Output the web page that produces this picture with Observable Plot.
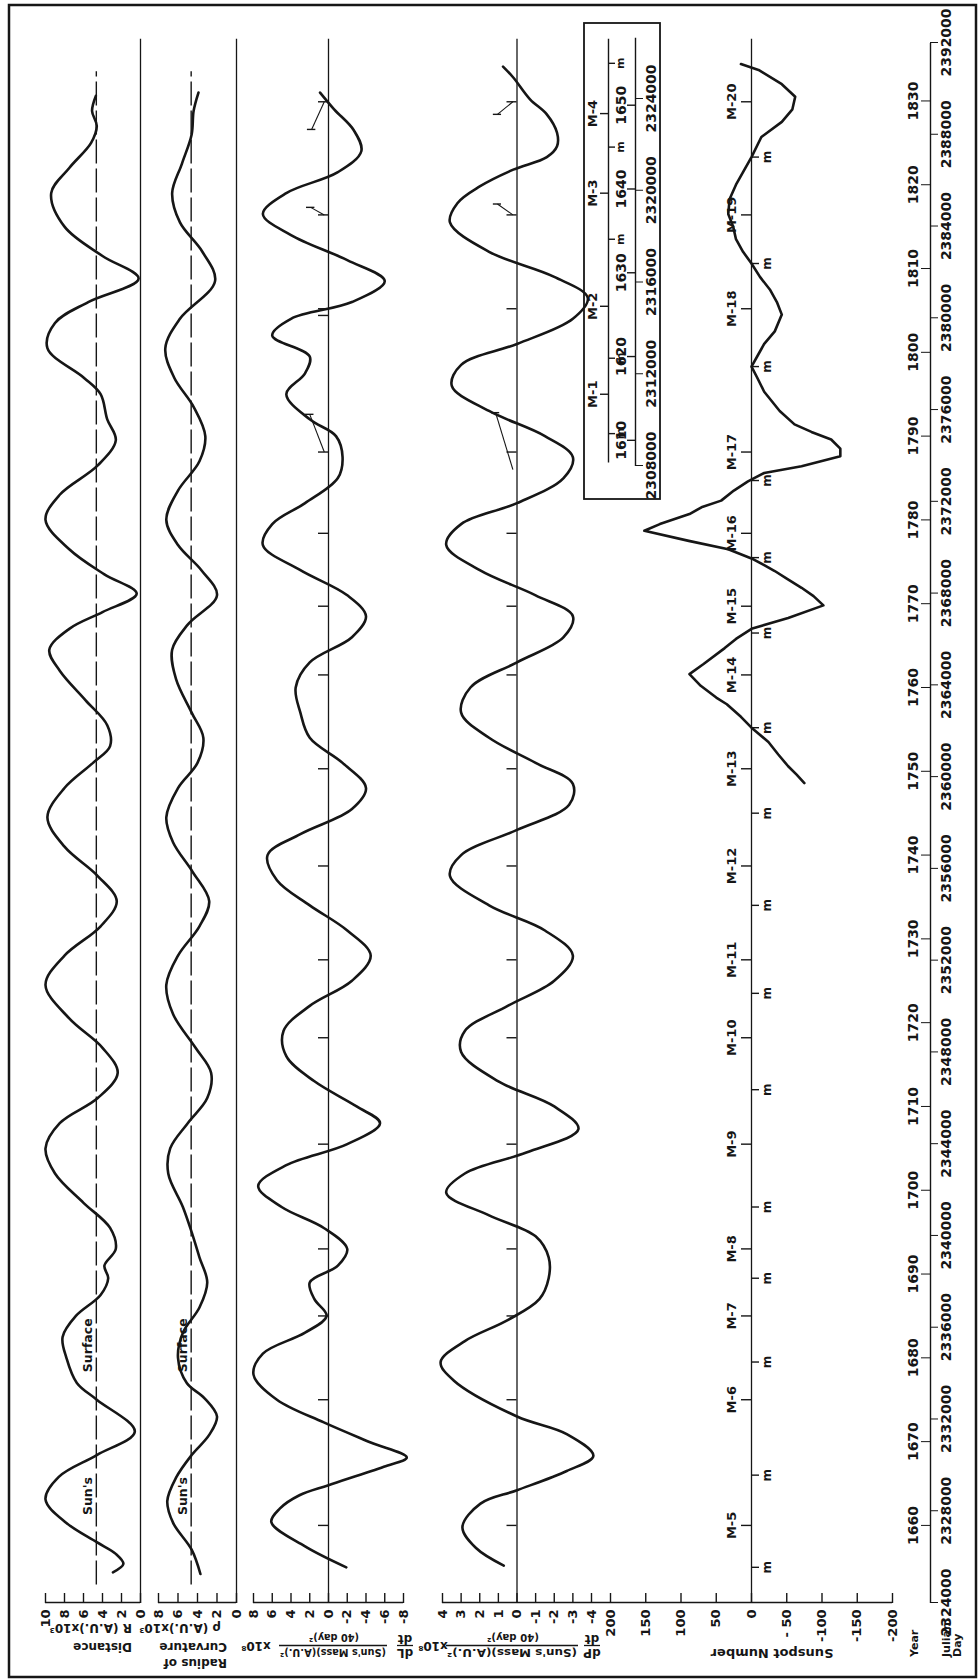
<!DOCTYPE html>
<html>
<head>
<meta charset="utf-8">
<script src="https://cdn.jsdelivr.net/npm/d3@7"></script>
<script src="https://cdn.jsdelivr.net/npm/@observablehq/plot@0.6"></script>
<style>
html, body { margin:0; padding:0; background:#fff; overflow:hidden; width:979px; height:1680px; }
#page { position:absolute; left:0; top:0; width:1680px; height:979px; transform-origin:0 0;
        transform: translate(0px,1680px) rotate(-90deg); background:#fff; }
#page > svg { position:absolute; left:0; top:0; }
</style>
</head>
<body>
<div id="page"></div>
<script>
// ---------------- data ----------------
const yearTicks = [1660,1670,1680,1690,1700,1710,1720,1730,1740,1750,1760,1770,1780,1790,1800,1810,1820,1830];
const julianDayTicks = [2324000,2328000,2332000,2336000,2340000,2344000,2348000,2352000,2356000,2360000,2364000,2368000,2372000,2376000,2380000,2384000,2388000,2392000];
const insetYearTicks = [1610,1620,1630,1640,1650];
const insetJulianDayTicks = [2308000,2312000,2316000,2320000,2324000];

const maximaEpochs = [1660.0,1675.0,1685.0,1693.0,1705.5,1718.2,1727.5,1738.7,1750.3,1761.5,1769.7,1778.4,1788.1,1805.2,1816.4,1829.9];
const maximaLabels = ["M-5","M-6","M-7","M-8","M-9","M-10","M-11","M-12","M-13","M-14","M-15","M-16","M-17","M-18","M-19","M-20"];
const minimaEpochs = [1655.0,1666.0,1679.5,1689.5,1698.0,1712.0,1723.5,1734.0,1745.0,1755.2,1766.5,1775.5,1784.7,1798.3,1810.6,1823.3];
const insetMaxima = [1615.5,1626.0,1639.5,1649.0];
const insetMaximaLabels = ["M-1","M-2","M-3","M-4"];
const insetMinima = [1610.8,1619.8,1634.0,1645.0,1655.0];

// displaced-epoch markers on the dL/dt and dP/dt zero lines: [maximum epoch, displaced epoch, height]
const dLShiftedMarks = [[1788.1,1792.6,2.0],[1816.4,1817.3,1.9],[1829.9,1826.6,1.8]];
const dLExtraTicks = [1804.4];
const dPShiftedMarks = [[1786.0,1792.8,1.15],[1816.4,1817.7,1.05],[1829.9,1828.4,1.05]];

const distanceTicks = [10,8,6,4,2,0];
const radiusTicks = [8,6,4,2,0];
const dLTicks = [8,6,4,2,0,-2,-4,-6,-8];
const dPTicks = [4,3,2,1,0,-1,-2,-3,-4];
const sunspotTicks = [200,150,100,50,0,-50,-100,-150,-200];
const sunspotTickLabels = ["200","150","100","50","0","- 50","-100","-150","-200"];
const sunsSurface = 4.65;
const surfaceLabels = [["Sun's",1663.5],["Surface",1681.5]];

// Sun's distance from the centre of mass, R (A.U.) x10^3  [year, value]
const distance = [[1654.4,2.9],[1655.4,1.8],[1656.6,2.6],[1658.0,4.6],[1660.3,7.8],[1663.1,10.0],[1665.8,8.6],[1668.4,4.6],[1671.2,0.6],[1675.0,4.6],[1677.0,6.7],[1680.0,7.8],[1682.5,8.2],[1685.0,6.8],[1687.5,4.2],[1689.5,3.4],[1691.0,3.8],[1693.0,2.6],[1695.5,3.2],[1698.5,6.0],[1702.0,9.0],[1705.0,10.0],[1708.0,8.5],[1711.0,4.5],[1714.0,2.4],[1717.0,4.0],[1720.5,7.5],[1724.5,10.0],[1728.0,8.0],[1731.5,4.2],[1734.5,2.5],[1737.5,4.5],[1741.0,8.0],[1744.5,9.8],[1748.0,8.0],[1751.0,5.0],[1753.0,3.2],[1755.5,3.5],[1758.5,5.8],[1762.0,8.5],[1764.5,9.6],[1767.0,7.5],[1769.0,4.0],[1771.2,0.4],[1773.5,3.8],[1776.5,7.5],[1780.0,10.0],[1783.0,8.5],[1786.5,4.5],[1789.5,2.6],[1792.0,3.5],[1795.0,4.2],[1797.0,6.0],[1800.5,9.8],[1803.5,9.0],[1806.0,5.5],[1808.8,0.2],[1811.5,4.0],[1815.0,8.0],[1819.0,9.4],[1822.0,7.5],[1825.0,5.2],[1827.0,4.6],[1828.8,5.1],[1830.6,4.7]];

// Radius of curvature rho (A.U.) x10^3
const radius = [[1654.2,3.7],[1657.1,4.6],[1660.3,6.5],[1662.9,7.1],[1665.7,6.2],[1668.4,4.6],[1670.8,2.8],[1673.0,2.0],[1675.2,3.3],[1677.0,5.1],[1680.0,6.0],[1683.0,5.5],[1686.0,3.8],[1689.0,3.0],[1692.0,3.8],[1695.0,4.6],[1698.0,5.5],[1702.0,7.0],[1705.0,6.8],[1708.0,5.0],[1711.0,3.0],[1714.0,2.6],[1717.0,4.2],[1721.0,6.5],[1724.5,7.2],[1728.0,6.0],[1731.5,3.8],[1734.5,2.8],[1738.0,4.5],[1741.5,6.5],[1744.5,7.2],[1748.0,6.0],[1751.0,4.0],[1754.0,3.4],[1757.0,4.6],[1761.0,6.2],[1764.5,6.6],[1767.5,5.0],[1771.0,2.0],[1774.0,3.6],[1777.0,6.0],[1780.0,7.2],[1783.5,6.0],[1787.0,3.8],[1790.0,3.2],[1793.5,4.4],[1797.0,6.4],[1800.5,7.3],[1804.0,5.8],[1808.5,2.2],[1812.0,3.5],[1815.5,5.8],[1819.0,6.6],[1822.5,5.6],[1826.0,4.6],[1828.8,4.4],[1831.0,3.9]];

// dL/dt  (Sun's mass)(A.U.)^2/(40 day)^2 x10^8
const dLdt = [[1655.0,-1.9],[1657.5,2.5],[1660.4,6.1],[1662.0,5.2],[1663.6,3.1],[1664.8,0.0],[1667.0,-5.9],[1668.1,-8.35],[1669.9,-4.5],[1672.3,0.5],[1675.0,5.5],[1678.0,8.0],[1680.5,7.0],[1683.0,2.5],[1685.0,0.2],[1687.0,1.5],[1689.0,2.0],[1691.0,-1.0],[1693.0,-2.0],[1695.5,0.5],[1698.0,5.0],[1700.5,7.5],[1703.0,4.5],[1705.5,-2.0],[1708.0,-5.5],[1710.0,-3.0],[1713.0,1.5],[1716.0,4.5],[1719.0,4.8],[1722.0,2.0],[1725.0,-2.5],[1728.0,-4.5],[1731.0,-2.0],[1734.0,2.0],[1737.0,5.5],[1740.0,6.5],[1742.5,3.0],[1745.5,-2.5],[1748.0,-4.0],[1751.0,-1.5],[1754.0,2.0],[1757.0,3.0],[1760.0,3.5],[1763.0,2.0],[1766.0,-2.5],[1768.5,-4.0],[1771.0,-2.0],[1774.0,3.0],[1777.0,7.0],[1779.5,6.0],[1782.0,2.5],[1785.0,-1.0],[1787.5,-1.5],[1790.0,-0.8],[1792.0,2.0],[1795.0,4.5],[1797.5,2.5],[1799.5,2.0],[1802.0,6.0],[1804.0,4.0],[1806.0,-2.5],[1808.5,-6.0],[1811.0,-2.0],[1814.0,4.0],[1816.5,7.0],[1819.0,4.5],[1821.5,-1.0],[1824.0,-3.5],[1826.5,-2.7],[1829.0,-0.6],[1831.0,0.9]];

// dP/dt
const dPdt = [[1655.2,0.71],[1657.3,2.2],[1659.8,2.93],[1662.6,1.96],[1664.2,0.0],[1666.5,-2.67],[1668.3,-4.1],[1670.9,-2.67],[1673.0,0.0],[1677.3,3.4],[1679.5,4.1],[1682.0,2.8],[1684.5,0.5],[1687.0,-1.2],[1689.5,-1.7],[1692.0,-1.7],[1694.5,-1.0],[1697.0,1.5],[1699.7,3.8],[1702.0,2.8],[1704.5,-0.5],[1707.3,-3.3],[1710.0,-2.0],[1713.0,1.0],[1716.5,3.0],[1719.0,2.8],[1722.0,0.5],[1725.0,-2.0],[1728.0,-3.0],[1731.0,-1.5],[1734.0,1.5],[1737.5,3.6],[1740.0,3.0],[1743.0,0.0],[1746.0,-2.8],[1748.5,-3.0],[1751.0,-1.0],[1754.0,1.5],[1757.0,3.0],[1760.0,2.5],[1763.0,0.0],[1766.0,-2.5],[1768.5,-3.0],[1771.0,-1.0],[1774.0,2.0],[1777.0,3.8],[1779.5,3.0],[1782.0,0.0],[1785.0,-2.5],[1787.5,-3.0],[1790.0,-1.5],[1793.0,1.5],[1796.0,3.5],[1798.5,3.0],[1801.0,0.0],[1804.0,-3.0],[1806.5,-3.8],[1809.0,-2.0],[1812.0,1.5],[1815.5,3.6],[1817.8,3.2],[1819.8,2.0],[1821.8,0.2],[1823.3,-1.6],[1824.6,-2.15],[1826.2,-2.15],[1828.4,-1.6],[1830.2,-0.7],[1832.8,0.2],[1834.1,0.75]];

// Sunspot number (alternating sign)
const sunspot = [[1748.6,-75],[1749.6,-64],[1750.6,-52],[1752.0,-38],[1753.5,-24],[1755.2,0],[1756.5,15],[1758.0,35],[1758.8,50],[1760.2,72],[1761.6,88],[1762.8,68],[1764.7,38],[1765.8,22],[1767.0,0],[1768.3,-52],[1769.8,-102],[1770.9,-88],[1771.9,-71],[1773.0,-50],[1773.9,-33],[1774.6,-18],[1775.4,0],[1776.5,33],[1777.5,89],[1778.7,152],[1779.5,130],[1780.7,88],[1781.5,71],[1782.3,43],[1783.5,25],[1784.6,5],[1785.6,-18],[1786.4,-71],[1787.6,-126],[1788.5,-126],[1789.6,-113],[1790.5,-85],[1791.4,-61],[1793.0,-40],[1795.3,-18],[1797.0,-8],[1798.3,0],[1799.8,-10],[1801.0,-18],[1802.5,-33],[1804.5,-43],[1806.0,-36],[1807.5,-26],[1809.0,-12],[1810.6,0],[1812.0,12],[1813.5,22],[1815.0,26],[1816.5,33],[1818.3,31],[1820.0,22],[1821.5,12],[1823.3,0],[1825.7,-14],[1827.5,-43],[1829.0,-58],[1830.5,-62],[1832.0,-43],[1833.7,-10],[1834.4,15]];

// ---------------- layout ----------------
const W = 1680, H = 979;          // landscape drawing, rotated onto the page
const X0 = 77, X1 = 1637;         // pixel span of the Julian-day axis
const INK = "#161616";
const FONT = "'DejaVu Sans', 'Liberation Sans', sans-serif";
const jdToYear = jd => 2000 + (jd - 2451545) / 365.25;
const yearToJd = y => 2451545 + (y - 2000) * 365.25;
const xDomain = [jdToYear(julianDayTicks[0]), jdToYear(julianDayTicks[julianDayTicks.length - 1])];
const lineEnd = xDomain[1] + 0.5;
const page = document.getElementById("page");

function addPlot(opts) {
  const svg = Plot.plot(Object.assign({
    width: W, height: H,
    style: {background: "transparent", overflow: "visible", fontFamily: FONT, color: INK, maxWidth: "none"}
  }, opts));
  page.appendChild(svg);
  return svg;
}

const bold = {fontWeight: "bold", fill: INK};
const thin = {stroke: INK, strokeWidth: 1.4};

function panel(p) {
  const marks = [
    // value-axis line, from the top tick down to the bottom tick (optionally extended upward)
    Plot.ruleX([xDomain[0]], {y1: p.domain[1], y2: p.domain[0], insetTop: p.baseExtend || 0, ...thin}),
    Plot.ruleY(p.ticks, {x1: xDomain[0], x2: xDomain[0], insetRight: -10, ...thin}),
    Plot.axisY({ticks: p.ticks, tickSize: 0, tickPadding: 7, fontSize: 13, ...bold, label: null,
                tickFormat: p.format || (d => String(d))}),
    Plot.ruleY([p.zero], {x1: xDomain[0], x2: lineEnd, stroke: INK, strokeWidth: 1.3})
  ];
  if (p.dashed != null) {
    marks.push(Plot.ruleY([p.dashed], {x1: 1653.0, x2: 1833.6, ...thin, strokeDasharray: "24,5"}));
    marks.push(Plot.text(surfaceLabels, {x: d => d[1], y: p.dashed, text: d => d[0], dy: -8, fontSize: 12.5, ...bold}));
  }
  if (p.maxTicks) {
    marks.push(Plot.ruleX(maximaEpochs, {x: d => d, y1: p.zero, y2: p.zero, insetTop: -10, ...thin}));
  }
  if (p.shifted) {
    const h = p.capHalf;
    marks.push(Plot.link(p.shifted, {x1: d => d[0], y1: h, x2: d => d[1], y2: d => d[2], stroke: INK, strokeWidth: 1.1}));
    marks.push(Plot.ruleX(p.shifted, {x: d => d[1], y1: d => d[2] - h, y2: d => d[2] + h, ...thin}));
  }
  if (p.extraTicks) {
    marks.push(Plot.ruleX(p.extraTicks, {x: d => d, y1: p.zero, y2: p.zero, insetTop: -10, ...thin}));
  }
  if (p.sunspotMarks) {
    marks.push(Plot.ruleX(maximaEpochs, {x: d => d, y1: 0, y2: 0, insetTop: -10, ...thin}));
    marks.push(Plot.text(maximaEpochs, {x: d => d, y: 0, text: (d, i) => maximaLabels[i], dy: -20, fontSize: 13, ...bold}));
    marks.push(Plot.ruleX(minimaEpochs, {x: d => d, y1: 0, y2: 0, insetBottom: -8, ...thin}));
    marks.push(Plot.text(minimaEpochs, {x: d => d, y: 0, text: () => "m", dy: 16, fontSize: 12, ...bold}));
  }
  marks.push(Plot.line(p.data, {x: d => d[0], y: d => d[1], curve: p.curve || "catmull-rom", stroke: INK, strokeWidth: 2.6}));
  addPlot({
    marginLeft: X0, marginRight: W - X1, marginTop: p.top, marginBottom: H - p.bottom,
    x: {domain: xDomain, axis: null}, y: {domain: p.domain, axis: null}, marks
  });
}

panel({data: distance, domain: [0, 10], ticks: distanceTicks, top: 45, bottom: 140, zero: 0, dashed: sunsSurface});
panel({data: radius, domain: [0, 8], ticks: radiusTicks, top: 158, bottom: 236, zero: 0, dashed: sunsSurface});
panel({data: dLdt, domain: [-8, 8], ticks: dLTicks, top: 253, bottom: 403, zero: 0, maxTicks: true,
       shifted: dLShiftedMarks, capHalf: 0.45, extraTicks: dLExtraTicks});
panel({data: dPdt, domain: [-4, 4], ticks: dPTicks, top: 442, bottom: 591, zero: 0, maxTicks: true,
       shifted: dPShiftedMarks, capHalf: 0.22});
const sunspotLabelMap = new Map(sunspotTicks.map((t, i) => [t, sunspotTickLabels[i]]));
panel({data: sunspot, domain: [-200, 200], ticks: sunspotTicks, top: 610, bottom: 892, zero: 0, baseExtend: -19,
       format: d => sunspotLabelMap.get(d), sunspotMarks: true, curve: "linear"});

// Year axis (ticks upward) and Julian-day axis (ticks downward)
addPlot({
  marginLeft: X0, marginRight: W - X1, marginTop: 930, marginBottom: H - 930,
  x: {domain: xDomain, axis: null}, y: {domain: [0, 1], axis: null},
  marks: [
    Plot.ruleY([0], {x1: xDomain[0], x2: xDomain[1], ...thin}),
    Plot.axisX({anchor: "top", ticks: yearTicks, tickSize: 10, tickPadding: 3, fontSize: 14, ...bold, label: null, tickFormat: d => String(d)})
  ]
});
addPlot({
  marginLeft: X0, marginRight: W - X1, marginTop: 930, marginBottom: H - 930,
  x: {domain: [julianDayTicks[0], julianDayTicks[julianDayTicks.length - 1]], axis: null}, y: {domain: [0, 1], axis: null},
  marks: [
    Plot.axisX({anchor: "bottom", ticks: julianDayTicks, tickSize: 8, tickPadding: 3, fontSize: 14, ...bold, label: null, tickFormat: d => String(d)})
  ]
});

// Inset: cycles M-1 .. M-4 (1610-1650)
const insetX0 = 1214, insetX1 = 1581;
addPlot({
  marginLeft: insetX0, marginRight: W - insetX1, marginTop: 608, marginBottom: H - 635,
  x: {domain: [insetJulianDayTicks[0], insetJulianDayTicks[insetJulianDayTicks.length - 1]], axis: null},
  y: {domain: [0, 1], axis: null},
  marks: [
    Plot.ruleY([1], {x1: insetJulianDayTicks[0] + 150, x2: yearToJd(1658.0), ...thin}),
    Plot.ruleY([0], {x1: insetJulianDayTicks[0], x2: yearToJd(1658.1), ...thin}),
    Plot.ruleX(insetMaxima, {x: yearToJd, y1: 1, y2: 1, insetTop: -8, ...thin}),
    Plot.text(insetMaxima, {x: yearToJd, y: 1, text: (d, i) => insetMaximaLabels[i], dy: -16, fontSize: 13, ...bold}),
    Plot.ruleX(insetMinima, {x: yearToJd, y1: 1, y2: 1, insetBottom: -7, ...thin}),
    Plot.text(insetMinima, {x: yearToJd, y: 1, text: () => "m", dy: 12, fontSize: 11, ...bold}),
    Plot.ruleX(insetYearTicks, {x: yearToJd, y1: 0, y2: 0, insetTop: -8, ...thin}),
    Plot.text(insetYearTicks, {x: yearToJd, y: 0, text: d => String(d), dy: -14, fontSize: 14, ...bold}),
    Plot.axisX({anchor: "bottom", ticks: insetJulianDayTicks, tickSize: 8, tickPadding: 3, fontSize: 14, ...bold, label: null, tickFormat: d => String(d)})
  ]
});

// ---------------- frame, inset box and axis titles ----------------
const deco = d3.select(page).append("svg").attr("width", W).attr("height", H)
  .style("font-family", FONT).style("overflow", "visible");
deco.append("rect").attr("x", 3).attr("y", 9).attr("width", 1672).attr("height", 967)
  .attr("fill", "none").attr("stroke", INK).attr("stroke-width", 2.5);
deco.append("rect").attr("x", 1181).attr("y", 584).attr("width", 476).attr("height", 76)
  .attr("fill", "none").attr("stroke", INK).attr("stroke-width", 1.8);

function rtext(x, y, str, size = 12, anchor = "start", len = null) {
  const t = deco.append("text").attr("x", x).attr("y", y).attr("transform", `rotate(-90,${x},${y})`)
    .attr("text-anchor", anchor).attr("font-size", size).attr("font-weight", "bold").attr("fill", INK).text(str);
  if (len) t.attr("textLength", len).attr("lengthAdjust", "spacingAndGlyphs");
}
function bar(x, ya, yb) {
  deco.append("line").attr("x1", x).attr("x2", x).attr("y1", ya).attr("y2", yb).attr("stroke", INK).attr("stroke-width", 1.3);
}
rtext(37.5, 132, "Distance");
rtext(56, 132, "R (A.U.)x10³");
rtext(21, 227, "Radius of");
rtext(37.5, 227, "Curvature");
rtext(56, 221, "ρ (A.U.)x10³");
function ratioTitle(cD, cBig, cX, dName, bigLen, denLen) {
  rtext(31.5, cD, dName, 12, "middle"); bar(34.5, cD - 8, cD + 8); rtext(45.5, cD, "dt", 12, "middle");
  rtext(31, cBig, "(Sun's Mass)(A.U.)²", 11, "middle", bigLen); bar(34.5, cBig - bigLen / 2 - 1, cBig + bigLen / 2 + 1);
  rtext(46, cBig + 1, "(40 day)²", 11, "middle", denLen);
  rtext(38, cX, "x10⁸", 12, "middle");
}
ratioTitle(405, 333, 256, "dL", 106, 50);
ratioTitle(592, 512, 433, "dP", 130, 52);
rtext(31, 772, "Sunspot Number", 13, "middle");
deco.append("text").attr("x", 23).attr("y", 918).attr("font-size", 11).attr("font-weight", "bold").attr("fill", INK).text("Year");
deco.append("text").attr("x", 23).attr("y", 950).attr("font-size", 11).attr("font-weight", "bold").attr("fill", INK).text("Julian");
deco.append("text").attr("x", 23).attr("y", 961).attr("font-size", 11).attr("font-weight", "bold").attr("fill", INK).text("Day");
</script>
</body>
</html>
